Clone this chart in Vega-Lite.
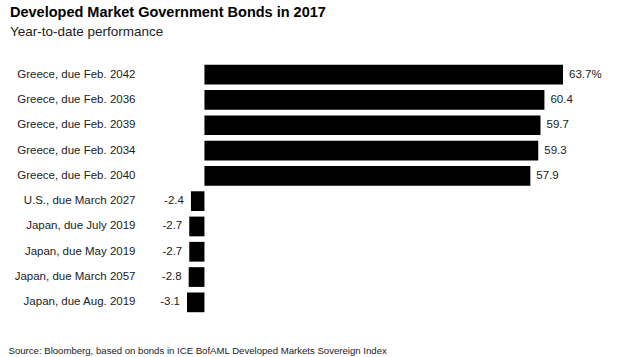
{
  "$schema": "https://vega.github.io/schema/vega-lite/v6.json",
  "autosize": "none",
  "width": 376,
  "height": 253,
  "padding": {"left": 187, "top": 62, "right": 77, "bottom": 42},
  "background": "white",
  "config": {"view": {"stroke": null}, "font": "Liberation Sans"},
  "title": {
    "text": "Developed Market Government Bonds in 2017",
    "subtitle": "Year-to-date performance",
    "anchor": "start",
    "frame": "group",
    "dx": -177,
    "offset": 23,
    "font": "Liberation Sans",
    "fontSize": 14.5,
    "fontWeight": "bold",
    "color": "#000000",
    "subtitleFont": "Liberation Sans",
    "subtitleFontSize": 13.5,
    "subtitleColor": "#222222",
    "subtitlePadding": 4
  },
  "data": {
    "values": [
      {"bond": "Greece, due Feb. 2042", "value": 63.7, "label": "63.7%"},
      {"bond": "Greece, due Feb. 2036", "value": 60.4, "label": "60.4"},
      {"bond": "Greece, due Feb. 2039", "value": 59.7, "label": "59.7"},
      {"bond": "Greece, due Feb. 2034", "value": 59.3, "label": "59.3"},
      {"bond": "Greece, due Feb. 2040", "value": 57.9, "label": "57.9"},
      {"bond": "U.S., due March 2027", "value": -2.4, "label": "-2.4"},
      {"bond": "Japan, due July 2019", "value": -2.7, "label": "-2.7"},
      {"bond": "Japan, due May 2019", "value": -2.7, "label": "-2.7"},
      {"bond": "Japan, due March 2057", "value": -2.8, "label": "-2.8"},
      {"bond": "Japan, due Aug. 2019", "value": -3.1, "label": "-3.1"}
    ]
  },
  "encoding": {
    "y": {
      "field": "bond",
      "type": "nominal",
      "sort": null,
      "scale": {"paddingInner": 0.22, "paddingOuter": 0.11},
      "axis": {
        "title": null,
        "domain": false,
        "ticks": false,
        "labelPadding": 52,
        "labelFont": "Liberation Sans",
        "labelFontSize": 11.5,
        "labelColor": "#222222"
      }
    },
    "x": {
      "field": "value",
      "type": "quantitative",
      "scale": {"domain": [-3.1, 63.7], "nice": false, "zero": false},
      "axis": {
        "title": "Source: Bloomberg, based on bonds in ICE BofAML Developed Markets Sovereign Index",
        "labels": false,
        "ticks": false,
        "domain": false,
        "grid": false,
        "titleAnchor": "start",
        "titleAlign": "left",
        "titleBaseline": "alphabetic",
        "titleX": -179,
        "titleY": 38,
        "titleFont": "Liberation Sans",
        "titleFontSize": 9.6,
        "titleFontWeight": "normal",
        "titleColor": "#222222"
      }
    }
  },
  "layer": [
    {"mark": {"type": "bar", "color": "#000000"}},
    {
      "transform": [{"filter": "datum.value >= 0"}],
      "mark": {"type": "text", "align": "left", "dx": 6, "fontSize": 11.5, "color": "#222222", "font": "Liberation Sans"},
      "encoding": {"text": {"field": "label"}}
    },
    {
      "transform": [{"filter": "datum.value < 0"}],
      "mark": {"type": "text", "align": "right", "dx": -7, "fontSize": 11.5, "color": "#222222", "font": "Liberation Sans"},
      "encoding": {"text": {"field": "label"}}
    }
  ]
}
